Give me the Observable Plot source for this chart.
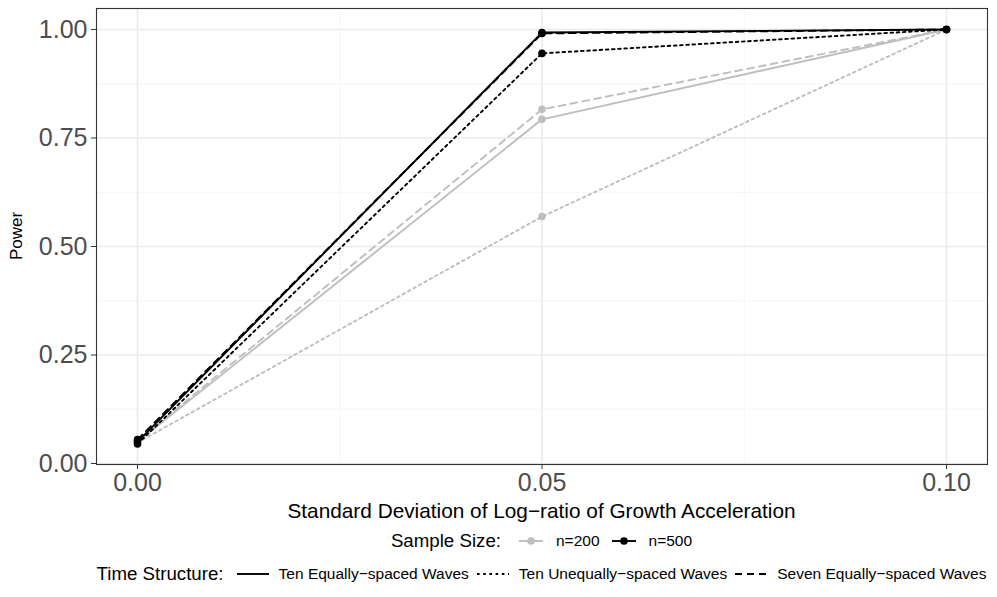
<!DOCTYPE html>
<html>
<head>
<meta charset="utf-8">
<script src="https://cdn.jsdelivr.net/npm/d3@7"></script>
<script src="https://cdn.jsdelivr.net/npm/@observablehq/plot@0.6"></script>
<style>
  body { margin: 0; background: #fff; font-family: "Liberation Sans", Arial, sans-serif; }
  #wrap { position: relative; width: 997px; height: 597px; }
  .abs { position: absolute; white-space: nowrap; color: #000; }
  .leg { position: absolute; left: 0; width: 997px; padding-left: 86px; box-sizing: border-box;
         display: flex; justify-content: center; align-items: center; white-space: nowrap; }
  .leg span { display: inline-block; }
</style>
</head>
<body>
<div id="wrap"></div>
<script>
// ---- data ----
const sdValues = [0, 0.05, 0.10];
const sampleSizes = ["n=200", "n=500"];
const timeStructures = ["Ten Equally\u2212spaced Waves", "Ten Unequally\u2212spaced Waves", "Seven Equally\u2212spaced Waves"];
// power by sample size & time structure, at sd = 0, 0.05, 0.10
const n200_tenEqual   = [0.050, 0.793, 1.000];
const n200_tenUnequal = [0.048, 0.569, 1.000];
const n200_sevenEqual = [0.052, 0.816, 1.000];
const n500_tenEqual   = [0.050, 0.993, 1.000];
const n500_tenUnequal = [0.045, 0.945, 1.000];
const n500_sevenEqual = [0.055, 0.991, 1.000];
const xTicks = [0, 0.05, 0.10];
const yTicks = [0, 0.25, 0.5, 0.75, 1.0];

const seriesList = [
  {n: "n=200", ts: timeStructures[0], v: n200_tenEqual},
  {n: "n=200", ts: timeStructures[1], v: n200_tenUnequal},
  {n: "n=200", ts: timeStructures[2], v: n200_sevenEqual},
  {n: "n=500", ts: timeStructures[0], v: n500_tenEqual},
  {n: "n=500", ts: timeStructures[1], v: n500_tenUnequal},
  {n: "n=500", ts: timeStructures[2], v: n500_sevenEqual}
];
const rows = seriesList.flatMap(s => s.v.map((p, i) => ({sd: sdValues[i], power: p, n: s.n, ts: s.ts})));

const colorFor = {"n=200": "#bebebe", "n=500": "#000000"};
const dashFor = {};
dashFor[timeStructures[0]] = null;
dashFor[timeStructures[1]] = "2.6,3.6";
dashFor[timeStructures[2]] = "7,5";

const minorX = [0.025, 0.075];
const minorY = [0.125, 0.375, 0.625, 0.875];

const lineMarks = [];
for (const n of sampleSizes) {
  for (const ts of timeStructures) {
    const d = rows.filter(r => r.n === n && r.ts === ts);
    const opts = {x: "sd", y: "power", stroke: colorFor[n], strokeWidth: 1.9};
    if (dashFor[ts]) opts.strokeDasharray = dashFor[ts];
    lineMarks.push(Plot.line(d, opts));
  }
  lineMarks.push(Plot.dot(rows.filter(r => r.n === n), {x: "sd", y: "power", fill: colorFor[n], r: 3.8}));
}

const chart = Plot.plot({
  width: 997,
  height: 525,
  marginLeft: 96,
  marginRight: 10,
  marginTop: 8,
  marginBottom: 61,
  style: {fontFamily: "Liberation Sans, Arial, sans-serif", background: "#fff"},
  x: {domain: [-0.00507, 0.10507]},
  y: {domain: [-0.0023, 1.0484]},
  marks: [
    Plot.gridX(minorX, {stroke: "#f2f2f2", strokeOpacity: 1, strokeWidth: 0.8}),
    Plot.gridY(minorY, {stroke: "#f2f2f2", strokeOpacity: 1, strokeWidth: 0.8}),
    Plot.gridX(xTicks, {stroke: "#ebebeb", strokeOpacity: 1, strokeWidth: 1.6}),
    Plot.gridY(yTicks, {stroke: "#ebebeb", strokeOpacity: 1, strokeWidth: 1.6}),
    ...lineMarks,
    Plot.frame({stroke: "#333333", strokeWidth: 1.1}),
    Plot.axisX(xTicks, {tickFormat: d3.format(".2f"), tickSize: 5, tickPadding: 4, fontSize: 25, fill: "#4d4d4d", stroke: "#333", label: null}),
    Plot.axisY(yTicks, {tickFormat: d3.format(".2f"), tickSize: 5, tickPadding: 4, fontSize: 25, fill: "#4d4d4d", stroke: "#333", label: null})
  ]
});

const wrap = document.getElementById("wrap");
wrap.appendChild(chart);

// axis titles
const xt = document.createElement("div");
xt.className = "abs";
xt.style.cssText = "left:0;width:997px;padding-left:86px;box-sizing:border-box;text-align:center;top:499px;font-size:20.8px;";
xt.textContent = "Standard Deviation of Log\u2212ratio of Growth Acceleration";
wrap.appendChild(xt);

const yt = document.createElement("div");
yt.className = "abs";
yt.style.cssText = "left:17px;top:236px;font-size:17px;transform:translate(-50%,-50%) rotate(-90deg);";
yt.textContent = "Power";
wrap.appendChild(yt);

// legend swatch helper
function swatch(color, dash, point, w) {
  const s = d3.create("svg").attr("width", w).attr("height", 16).style("display", "block");
  const l = s.append("line").attr("x1", 0).attr("x2", w).attr("y1", 8).attr("y2", 8)
    .attr("stroke", color).attr("stroke-width", 1.9);
  if (dash) l.attr("stroke-dasharray", dash);
  if (point) s.append("circle").attr("cx", w / 2).attr("cy", 8).attr("r", 3.8).attr("fill", color);
  return s.node();
}

// Sample size legend
const leg1 = document.createElement("div");
leg1.className = "leg";
leg1.style.cssText = "top:531px;height:20px;";
const t1 = document.createElement("span");
t1.textContent = "Sample Size:";
t1.style.cssText = "font-size:18.7px;margin-right:18px;";
leg1.appendChild(t1);
sampleSizes.forEach((n, i) => {
  const sw = swatch(colorFor[n], null, true, 24);
  sw.style.marginRight = "13px";
  leg1.appendChild(sw);
  const t = document.createElement("span");
  t.textContent = n;
  t.style.cssText = "font-size:15.5px;margin-right:" + (i === 0 ? 12 : 0) + "px;";
  leg1.appendChild(t);
});
wrap.appendChild(leg1);

// Time structure legend
const leg2 = document.createElement("div");
leg2.className = "leg";
leg2.style.cssText = "top:564px;height:20px;";
const t2 = document.createElement("span");
t2.textContent = "Time Structure:";
t2.style.cssText = "font-size:18.7px;margin-right:13px;";
leg2.appendChild(t2);
timeStructures.forEach((ts, i) => {
  const sw = swatch("#000", dashFor[ts], false, 32);
  sw.style.marginRight = "10px";
  leg2.appendChild(sw);
  const t = document.createElement("span");
  t.textContent = ts;
  t.style.cssText = "font-size:15.5px;margin-right:" + (i < 2 ? 8 : 0) + "px;";
  leg2.appendChild(t);
});
wrap.appendChild(leg2);
</script>
</body>
</html>
